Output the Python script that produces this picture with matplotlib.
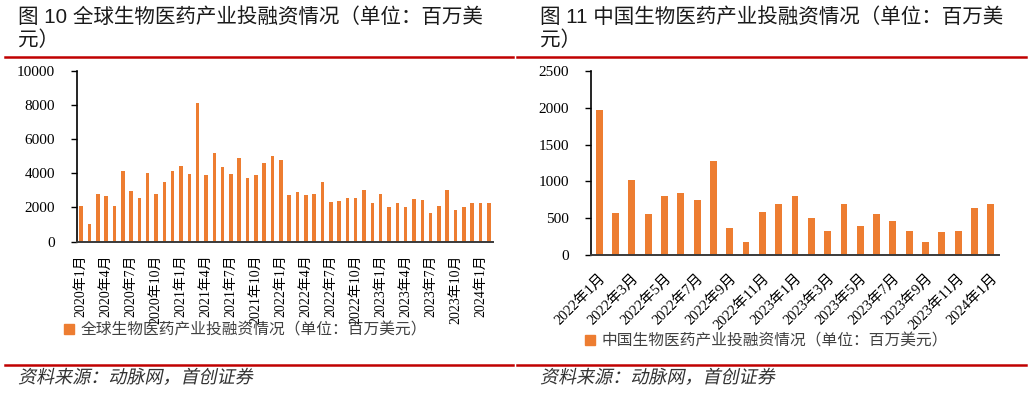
import matplotlib
matplotlib.use("Agg")
import matplotlib.pyplot as plt
from matplotlib.lines import Line2D
from matplotlib.patheffects import AbstractPathEffect
from matplotlib.transforms import Affine2D

# 全球 monthly, 2020-01 .. 2024-02
global_months = [f"{y}年{m}月" for y in range(2020, 2025) for m in range(1, 13)][:50]
global_values = [
    2100, 1050, 2790, 2670, 2070, 4110, 2980, 2570, 4000, 2790,
    3470, 4110, 4440, 3940, 8130, 3900, 5200, 4350, 3940, 4890,
    3720, 3920, 4620, 5010, 4800, 2750, 2900, 2750, 2790, 3470,
    2300, 2380, 2530, 2550, 3000, 2240, 2790, 2050, 2260, 2050,
    2500, 2460, 1680, 2070, 3020, 1830, 2010, 2240, 2240, 2240,
]

# 中国 monthly, 2022-01 .. 2024-01
china_months = [f"{y}年{m}月" for y in range(2022, 2025) for m in range(1, 13)][:25]
china_values = [
    1966, 566, 1019, 562, 797, 838, 752, 1282, 367, 172,
    584, 688, 797, 503, 322, 693, 394, 553, 466, 326,
    181, 312, 322, 643, 688,
]

left_title = "图 10 全球生物医药产业投融资情况（单位：百万美\n元）"
right_title = "图 11 中国生物医药产业投融资情况（单位：百万美\n元）"
left_legend = "全球生物医药产业投融资情况（单位：百万美元）"
right_legend = "中国生物医药产业投融资情况（单位：百万美元）"
source_text = "资料来源：动脉网，首创证券"

BAR = "#ED7D31"
RED = "#C00000"
W, H = 1031, 393
SERIF = ["Liberation Serif", "Noto Sans CJK SC"]
SANS = ["Noto Sans CJK SC", "DejaVu Sans"]
TITLE = ["Liberation Sans", "Noto Sans CJK SC"]

plt.rcParams["font.family"] = SERIF


class Slant(AbstractPathEffect):
    # fake italic: shear glyphs about their baseline
    def __init__(self, deg=12):
        super().__init__()
        self.deg = deg

    def draw_path(self, renderer, gc, tpath, affine, rgbFace=None):
        y0 = affine.get_matrix()[1, 2]
        sh = Affine2D().translate(0, -y0).skew_deg(self.deg, 0).translate(0, y0)
        renderer.draw_path(gc, tpath, affine + sh, rgbFace)


def fx(px):
    return px / W


def fy(py):
    return 1 - py / H


def draw_panel(fig, rect, labels, values, ymax, ystep, step, rot):
    ax = fig.add_axes(rect)
    x = list(range(len(values)))
    ax.bar(x, values, width=0.42, color=BAR)
    ax.set_xlim(-0.5, len(values) - 0.5)
    ax.set_ylim(0, ymax)
    ax.set_yticks(range(0, ymax + 1, ystep))
    ax.tick_params(axis="y", labelsize=11, length=4, width=1, color="black", pad=12)
    ax.set_xticks(x[::step])
    if rot == 90:
        ax.set_xticklabels(labels[::step], rotation=90, fontsize=10, ha="center", va="top")
        ax.tick_params(axis="x", length=0, pad=9)
    else:
        ax.set_xticklabels(labels[::step], rotation=45, fontsize=10.5, ha="right", va="top",
                           rotation_mode="anchor")
        ax.tick_params(axis="x", length=0, pad=12)
    for s in ["top", "right"]:
        ax.spines[s].set_visible(False)
    ax.spines["left"].set_color("black")
    ax.spines["left"].set_linewidth(1.2)
    ax.spines["bottom"].set_color("#3a3a3a")
    ax.spines["bottom"].set_linewidth(1.4)
    return ax


fig = plt.figure(figsize=(W / 100, H / 100), dpi=100)

axl = draw_panel(fig, [fx(77), fy(241.7), fx(493 - 77), (241.7 - 70.7) / H],
                 global_months, global_values, 10000, 2000, 3, 90)
axr = draw_panel(fig, [fx(591), fy(255), fx(999 - 591), (255 - 71) / H],
                 china_months, china_values, 2500, 500, 2, 45)

# titles
fig.text(fx(18), fy(7), left_title, family=TITLE, fontsize=14.8, color="#1a1a1a",
         va="top", ha="left", linespacing=1.25)
fig.text(fx(540), fy(7), right_title, family=TITLE, fontsize=14.8, color="#1a1a1a",
         va="top", ha="left", linespacing=1.25)

# red rules
for y in (57, 365):
    fig.add_artist(Line2D([fx(5), fx(513)], [fy(y), fy(y)], color=RED, lw=1.8))
    fig.add_artist(Line2D([fx(517), fx(1026)], [fy(y), fy(y)], color=RED, lw=1.8))

# legends
for ax, txt, xp, yp in ((axl, left_legend, 64, 330), (axr, right_legend, 585, 341)):
    h = plt.Rectangle((0, 0), 1, 1, color=BAR)
    ax.legend([h], [txt], loc="center left", bbox_to_anchor=(fx(xp), fy(yp)),
              bbox_transform=fig.transFigure, frameon=False, handlelength=0.65,
              handleheight=0.65, handletextpad=0.4, borderaxespad=0, borderpad=0,
              prop={"family": SANS, "size": 11.3}, labelcolor="#404040")

# source
for xp in (18, 540):
    fig.text(fx(xp), fy(378), source_text, family=SANS, fontsize=13, color="#333333",
             va="center", ha="left", path_effects=[Slant(12)])

fig.savefig("out.png", dpi=100)
